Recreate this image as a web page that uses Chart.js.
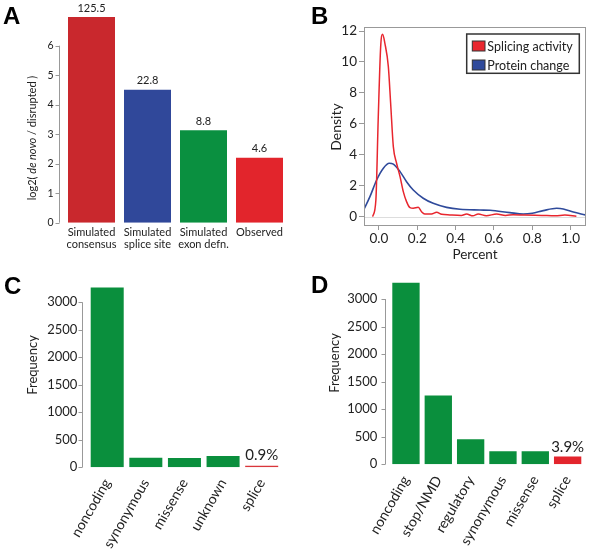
<!DOCTYPE html>
<html>
<head>
<meta charset="utf-8">
<script src="https://cdn.jsdelivr.net/npm/chart.js@4.4.1/dist/chart.umd.min.js"></script>
<style>
  body { margin: 0; background: #fff; }
  #wrap { position: relative; width: 592px; height: 551px; overflow: hidden; }
  canvas { position: absolute; }
  .tag { position: absolute; font: bold 24px "Liberation Sans", Arial, sans-serif; line-height: 24px; color: #000; }
</style>
</head>
<body>
<div id="wrap">
  <canvas id="cA" width="295" height="265" style="left:0;top:0"></canvas>
  <canvas id="cB" width="297" height="265" style="left:295px;top:0"></canvas>
  <canvas id="cC" width="295" height="281" style="left:0;top:270px"></canvas>
  <canvas id="cD" width="297" height="281" style="left:295px;top:270px"></canvas>
  <div class="tag" style="left:3px;top:4px">A</div>
  <div class="tag" style="left:311px;top:4px">B</div>
  <div class="tag" style="left:4px;top:274px">C</div>
  <div class="tag" style="left:311px;top:273px">D</div>
</div>
<script>
const FONT = 'Lato, "Open Sans", sans-serif';

// A: de novo / disrupted ratios
const catsA = [["Simulated", "consensus"], ["Simulated", "splice site"], ["Simulated", "exon defn."], ["Observed"]];
const ratiosA = [125.5, 22.8, 8.8, 4.6];
const ticksA = [0, 1, 2, 3, 4, 5, 6];

// B: density curves
const splicingX = [-0.033, -0.016, -0.004, 0.009, 0.019, 0.031, 0.049, 0.061, 0.075, 0.092, 0.11, 0.127, 0.144, 0.162, 0.179, 0.205, 0.222, 0.239, 0.274, 0.301, 0.327, 0.37, 0.43, 0.457, 0.49, 0.518, 0.56, 0.614, 0.66, 0.70, 0.76, 0.85, 0.92, 0.97, 1.03];
const splicingY = [0, 1.08, 6.25, 10.99, 11.79, 11.2, 9.7, 7.33, 4.53, 3.45, 2.59, 1.62, 0.97, 0.58, 0.54, 0.6, 0.32, 0.17, 0.17, 0.28, 0.15, 0.11, 0.08, 0.17, 0.05, 0.17, 0.06, 0.17, 0.08, 0.13, 0.1, 0.08, 0.06, 0.1, 0.03];
const proteinX = [-0.078, -0.047, -0.012, 0.023, 0.054, 0.075, 0.11, 0.144, 0.179, 0.231, 0.283, 0.353, 0.423, 0.527, 0.58, 0.683, 0.753, 0.8, 0.857, 0.927, 0.962, 1.014, 1.075];
const proteinY = [0.48, 1.29, 2.37, 3.13, 3.45, 3.39, 2.91, 2.26, 1.72, 1.19, 0.86, 0.6, 0.48, 0.43, 0.41, 0.26, 0.17, 0.22, 0.39, 0.54, 0.5, 0.3, 0.11];
const ticksBX = [0, 0.2, 0.4, 0.6, 0.8, 1.0];
const ticksBY = [0, 2, 4, 6, 8, 10, 12];

// C and D: frequencies per class
const catsC = ["noncoding", "synonymous", "missense", "unknown", "splice"];
const freqC = [3270, 175, 170, 205, 30];
const catsD = ["noncoding", "stop/NMD", "regulatory", "synonymous", "missense", "splice"];
const freqD = [3295, 1250, 455, 235, 235, 140];
const spliceShareC = "0.9%";
const spliceShareD = "3.9%";
const ticksCD = [0, 500, 1000, 1500, 2000, 2500, 3000];

const GREEN = "#0a8f3d";
const RED = "#e3252d";

// R style left axis: line only over the tick range, set off from the bars
function rAxis(x0, lo, hi) {
    return {
        id: "rAxis",
        afterDraw(chart) {
            const ctx = chart.ctx, y = chart.scales.y;
            ctx.save();
            ctx.strokeStyle = "#999";
            ctx.lineWidth = 1;
            ctx.beginPath();
            ctx.moveTo(x0, y.getPixelForValue(lo));
            ctx.lineTo(x0, y.getPixelForValue(hi));
            y.ticks.forEach(t => {
                const py = Math.round(y.getPixelForValue(t.value)) + 0.5;
                ctx.moveTo(x0 - 4, py);
                ctx.lineTo(x0, py);
            });
            ctx.stroke();
            ctx.restore();
        }
    };
}

// text above bars
function barLabels(texts, size, gap) {
    return {
        id: "barLabels",
        afterDraw(chart) {
            const ctx = chart.ctx;
            const meta = chart.getDatasetMeta(0);
            ctx.save();
            ctx.fillStyle = "#222";
            ctx.font = size + "px " + FONT;
            ctx.textAlign = "center";
            ctx.textBaseline = "middle";
            meta.data.forEach((bar, i) => {
                if (texts[i]) ctx.fillText(texts[i], bar.x, bar.y - gap);
            });
            ctx.restore();
        }
    };
}

// free text (axis titles), parts may be italic
function texts(items) {
    return {
        id: "texts",
        afterDraw(chart) {
            const ctx = chart.ctx;
            items.forEach(it => {
                ctx.save();
                ctx.translate(it.x, it.y);
                if (it.rotate) ctx.rotate(it.rotate * Math.PI / 180);
                ctx.fillStyle = "#222";
                ctx.textBaseline = "middle";
                ctx.textAlign = "left";
                const parts = it.parts || [{ text: it.text }];
                const font = p => (p.italic ? "italic " : "") + it.size + "px " + FONT;
                let w = 0;
                parts.forEach(p => { ctx.font = font(p); w += ctx.measureText(p.text).width; });
                let x = -w / 2;
                parts.forEach(p => { ctx.font = font(p); ctx.fillText(p.text, x, 0); x += ctx.measureText(p.text).width; });
                ctx.restore();
            });
        }
    };
}

// keep the plot area exactly where it is asked for
function fixSize(prop, size) {
    return s => {
        s[prop] = size;
        s.paddingTop = 0; s.paddingBottom = 0; s.paddingLeft = 0; s.paddingRight = 0;
    };
}

function barChart(id, labels, values, colors, o) {
    return new Chart(document.getElementById(id), {
        type: "bar",
        data: {
            labels: labels,
            datasets: [{
                data: values,
                backgroundColor: colors,
                borderWidth: 0,
                barPercentage: 1,
                categoryPercentage: o.catPct
            }]
        },
        options: {
            responsive: false,
            animation: false,
            layout: { padding: { top: o.top, right: o.right, left: 0, bottom: 0 } },
            plugins: { legend: { display: false }, tooltip: { enabled: false } },
            scales: {
                x: {
                    grid: { display: false, drawTicks: false },
                    border: { display: false },
                    ticks: {
                        color: "#222",
                        autoSkip: false,
                        padding: o.xPad,
                        minRotation: o.rot,
                        maxRotation: o.rot,
                        font: { family: FONT, size: o.xSize, lineHeight: 1.1 }
                    },
                    afterFit: fixSize("height", o.xHeight)
                },
                y: {
                    min: 0,
                    max: o.yMax,
                    afterBuildTicks: s => { s.ticks = o.ticks.map(v => ({ value: v })); },
                    grid: { display: false, drawTicks: false },
                    border: { display: false },
                    ticks: { color: "#222", padding: o.yPad, font: { family: FONT, size: o.ySize }, callback: v => String(v) },
                    afterFit: fixSize("width", o.yWidth)
                }
            }
        },
        plugins: [rAxis(o.axisX, o.ticks[0], o.ticks[o.ticks.length - 1]), barLabels(o.tops, o.topSize, o.topGap), texts(o.titles)]
    });
}

// Panel A
barChart("cA", catsA, ratiosA.map(r => Math.log2(r)), ["#c9282d", "#30489a", "#0a9040", "#e2252c"], {
    catPct: 47 / 56, top: 10.3, right: 7.5, xPad: 4, rot: 0, xSize: 11, xHeight: 42.3,
    yMax: 7.2, ticks: ticksA, yPad: 10, ySize: 10.5, yWidth: 63.5, axisX: 59.5,
    tops: ratiosA.map(r => r.toFixed(1)), topSize: 11, topGap: 9,
    titles: [{ x: 32, y: 138, size: 11, rotate: -90, parts: [{ text: "log2( " }, { text: "de novo", italic: true }, { text: " / disrupted )" }] }]
});

// Panel C
barChart("cC", catsC, freqC, catsC.map((c, i) => i === catsC.length - 1 ? "#d9363b" : GREEN), {
    catPct: 33 / 38.6, top: 10.3, right: 14, xPad: 9, rot: 60, xSize: 14, xHeight: 83.7,
    yMax: 3400, ticks: ticksCD, yPad: 10.6, ySize: 13, yWidth: 87.9, axisX: 82.5,
    tops: catsC.map((c, i) => i === catsC.length - 1 ? spliceShareC : null), topSize: 15, topGap: 10,
    titles: [{ x: 33, y: 95, size: 13, rotate: -90, text: "Frequency" }]
});

// Panel D
barChart("cD", catsD, freqD, catsD.map((c, i) => i === catsD.length - 1 ? RED : GREEN), {
    catPct: 27.3 / 32.3, top: 7, right: 8.2, xPad: 9, rot: 60, xSize: 14, xHeight: 86.7,
    yMax: 3400, ticks: ticksCD, yPad: 12.5, ySize: 13, yWidth: 94.8, axisX: 90.5,
    tops: catsD.map((c, i) => i === catsD.length - 1 ? spliceShareD : null), topSize: 15, topGap: 9,
    titles: [{ x: 40, y: 93, size: 13, rotate: -90, text: "Frequency" }]
});

// Panel B: box, zero line and legend
const boxAndLegend = {
    id: "boxAndLegend",
    beforeDatasetsDraw(chart) {
        const { ctx, chartArea: a } = chart;
        const y0 = Math.round(chart.scales.y.getPixelForValue(0)) + 0.5;
        ctx.save();
        ctx.strokeStyle = "#ddd";
        ctx.lineWidth = 1;
        ctx.beginPath();
        ctx.moveTo(a.left, y0);
        ctx.lineTo(a.right, y0);
        ctx.stroke();
        ctx.restore();
    },
    afterDraw(chart) {
        const { ctx, chartArea: a } = chart;
        ctx.save();
        ctx.strokeStyle = "#999";
        ctx.lineWidth = 1;
        ctx.strokeRect(Math.round(a.left) + 0.5, Math.round(a.top) + 0.5, Math.round(a.right - a.left), Math.round(a.bottom - a.top));
        const lx = a.right - 118.3, ly = a.top + 6.7;
        ctx.lineWidth = 1.5;
        ctx.strokeStyle = "#333";
        ctx.fillStyle = "#fff";
        ctx.fillRect(lx, ly, 112.6, 39.3);
        ctx.strokeRect(lx, ly, 112.6, 39.3);
        ctx.font = "12.5px " + FONT;
        ctx.textBaseline = "middle";
        ctx.textAlign = "left";
        chart.data.datasets.forEach((ds, i) => {
            const ry = ly + 7 + i * 19;
            ctx.fillStyle = ds.borderColor;
            ctx.fillRect(lx + 5.6, ry, 12.7, 10);
            ctx.lineWidth = 1;
            ctx.strokeRect(lx + 5.6, ry, 12.7, 10);
            ctx.fillStyle = "#222";
            ctx.fillText(ds.label, lx + 20.6, ry + 5.5);
        });
        ctx.restore();
    }
};

new Chart(document.getElementById("cB"), {
    type: "scatter",
    data: {
        datasets: [
            {
                label: "Splicing activity",
                data: splicingX.map((x, i) => ({ x: x, y: splicingY[i] })),
                showLine: true,
                borderColor: "#e8262e",
                borderWidth: 1.5,
                pointRadius: 0,
                cubicInterpolationMode: "monotone"
            },
            {
                label: "Protein change",
                data: proteinX.map((x, i) => ({ x: x, y: proteinY[i] })),
                showLine: true,
                borderColor: "#2f4a9b",
                borderWidth: 1.6,
                pointRadius: 0,
                cubicInterpolationMode: "monotone"
            }
        ]
    },
    options: {
        responsive: false,
        animation: false,
        layout: { padding: { top: 27.3, right: 7, left: 0, bottom: 0 } },
        plugins: { legend: { display: false }, tooltip: { enabled: false } },
        scales: {
            x: {
                type: "linear",
                min: -0.078,
                max: 1.075,
                afterBuildTicks: s => { s.ticks = ticksBX.map(v => ({ value: v })); },
                grid: { drawOnChartArea: false, drawTicks: true, tickLength: 5, color: "#999" },
                border: { display: false },
                ticks: { color: "#222", padding: 1, font: { family: FONT, size: 13.5 }, callback: v => v.toFixed(1) },
                afterFit: fixSize("height", 40)
            },
            y: {
                min: -0.54,
                max: 12.24,
                afterBuildTicks: s => { s.ticks = ticksBY.map(v => ({ value: v })); },
                grid: { drawOnChartArea: false, drawTicks: true, tickLength: 5, color: "#999" },
                border: { display: false },
                ticks: { color: "#222", padding: 2, font: { family: FONT, size: 13.5 } },
                afterFit: fixSize("width", 69)
            }
        }
    },
    plugins: [boxAndLegend, texts([
        { x: 41.7, y: 127, size: 14, rotate: -90, text: "Density" },
        { x: 180, y: 255, size: 13.5, text: "Percent" }
    ])]
});
</script>
</body>
</html>
